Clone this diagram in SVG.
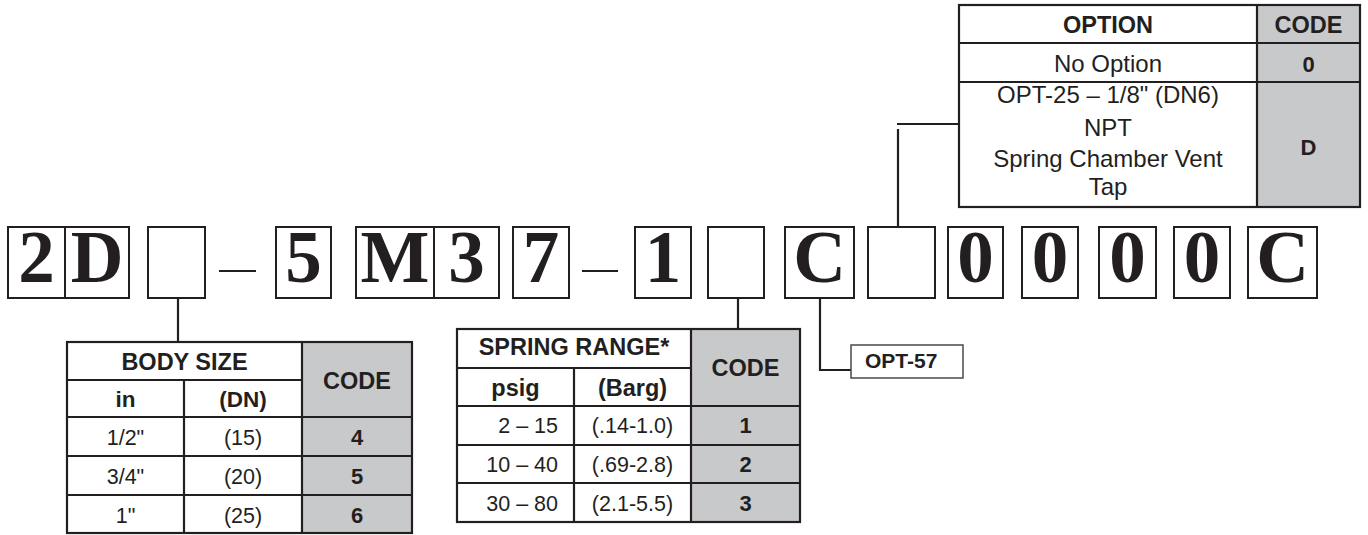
<svg xmlns="http://www.w3.org/2000/svg" width="1368" height="535" viewBox="0 0 1368 535">
<style>
.box{fill:#fff;stroke:#231f20;stroke-width:2}
.big{font-family:"Liberation Serif","Times New Roman",serif;font-weight:bold;font-size:73px;fill:#231f20;text-anchor:middle}
.ln{stroke:#231f20;stroke-width:2.2;fill:none}
.tl{stroke:#231f20;stroke-width:2.2;fill:none}
.gray{fill:#c8c9cb}
.h{font-family:"Liberation Sans",Arial,sans-serif;font-weight:bold;font-size:23.5px;fill:#231f20;text-anchor:middle}
.sh{font-family:"Liberation Sans",Arial,sans-serif;font-weight:bold;font-size:22.5px;fill:#231f20;text-anchor:middle}
.r{font-family:"Liberation Sans",Arial,sans-serif;font-size:21.5px;fill:#231f20;text-anchor:middle}
.ro{font-family:"Liberation Sans",Arial,sans-serif;font-size:24px;fill:#231f20;text-anchor:middle}
.b{font-family:"Liberation Sans",Arial,sans-serif;font-weight:bold;font-size:22px;fill:#231f20;text-anchor:middle}
</style>
<rect width="1368" height="535" fill="#fff"/>

<g id="model-code">
<rect class="box" x="8" y="227" width="57" height="71"/><text class="big" x="36.5" y="282">2</text>
<rect class="box" x="65" y="227" width="64" height="71"/><text class="big" x="97" y="282">D</text>
<rect class="box" x="148" y="227" width="57" height="71"/>
<line class="ln" x1="219" y1="271" x2="256" y2="271" stroke-width="2"/>
<rect class="box" x="276" y="227" width="55" height="71"/><text class="big" x="303.5" y="282">5</text>
<rect class="box" x="356" y="227" width="78" height="71"/><text class="big" x="395" y="282">M</text>
<rect class="box" x="434" y="227" width="65" height="71"/><text class="big" x="466.5" y="282">3</text>
<rect class="box" x="513" y="227" width="56" height="71"/><text class="big" x="541" y="282">7</text>
<line class="ln" x1="582" y1="271" x2="618" y2="271" stroke-width="2"/>
<rect class="box" x="635" y="227" width="56" height="71"/><text class="big" x="663" y="282">1</text>
<rect class="box" x="708" y="227" width="56" height="71"/>
<rect class="box" x="785" y="227" width="69" height="71"/><text class="big" x="819.5" y="282">C</text>
<rect class="box" x="868" y="227" width="67" height="71"/>
<rect class="box" x="948" y="227" width="55" height="71"/><text class="big" x="975.5" y="282">0</text>
<rect class="box" x="1022" y="227" width="56" height="71"/><text class="big" x="1050" y="282">0</text>
<rect class="box" x="1099" y="227" width="57" height="71"/><text class="big" x="1127.5" y="282">0</text>
<rect class="box" x="1174" y="227" width="56" height="71"/><text class="big" x="1202" y="282">0</text>
<rect class="box" x="1248" y="227" width="69" height="71"/><text class="big" x="1282.5" y="282">C</text>
</g>

<g id="connectors">
<line class="ln" x1="178" y1="298" x2="178" y2="342"/>
<line class="ln" x1="738" y1="298" x2="738" y2="329"/>
<polyline class="ln" points="820,298 820,370 851,370"/>
<line class="ln" x1="897" y1="124" x2="959" y2="124"/>
<line class="ln" x1="898" y1="129" x2="898" y2="227"/>
</g>

<g id="body-size-table">
<rect class="gray" x="302" y="342" width="110" height="191"/>
<rect class="tl" x="67" y="342" width="345" height="191"/>
<line class="tl" x1="67" y1="380" x2="302" y2="380"/>
<line class="tl" x1="67" y1="417" x2="412" y2="417"/>
<line class="tl" x1="67" y1="456" x2="412" y2="456"/>
<line class="tl" x1="67" y1="495" x2="412" y2="495"/>
<line class="tl" x1="184" y1="380" x2="184" y2="533"/>
<line class="tl" x1="302" y1="342" x2="302" y2="533"/>
<text class="h" x="184.5" y="370">BODY SIZE</text>
<text class="h" x="357" y="389">CODE</text>
<text class="sh" x="125.5" y="407">in</text>
<text class="sh" x="243" y="407">(DN)</text>
<text class="r" x="125.5" y="445">1/2"</text><text class="r" x="243" y="445">(15)</text><text class="b" x="357" y="445">4</text>
<text class="r" x="125.5" y="484">3/4"</text><text class="r" x="243" y="484">(20)</text><text class="b" x="357" y="484">5</text>
<text class="r" x="125.5" y="523">1"</text><text class="r" x="243" y="523">(25)</text><text class="b" x="357" y="523">6</text>
</g>

<g id="spring-range-table">
<rect class="gray" x="691" y="329" width="109" height="193"/>
<rect class="tl" x="457" y="329" width="343" height="193"/>
<line class="tl" x1="457" y1="368" x2="691" y2="368"/>
<line class="tl" x1="457" y1="406" x2="800" y2="406"/>
<line class="tl" x1="457" y1="445" x2="800" y2="445"/>
<line class="tl" x1="457" y1="483" x2="800" y2="483"/>
<line class="tl" x1="574" y1="368" x2="574" y2="522"/>
<line class="tl" x1="691" y1="329" x2="691" y2="522"/>
<text class="h" x="574" y="355">SPRING RANGE*</text>
<text class="h" x="745.5" y="376">CODE</text>
<text class="h" x="515.5" y="396">psig</text>
<text class="h" x="632.5" y="396">(Barg)</text>
<text class="r" x="558" y="433" text-anchor="end" style="text-anchor:end">2 – 15</text><text class="r" x="632.5" y="433">(.14-1.0)</text><text class="b" x="745.5" y="433">1</text>
<text class="r" x="558" y="472" style="text-anchor:end">10 – 40</text><text class="r" x="632.5" y="472">(.69-2.8)</text><text class="b" x="745.5" y="472">2</text>
<text class="r" x="558" y="511" style="text-anchor:end">30 – 80</text><text class="r" x="632.5" y="511">(2.1-5.5)</text><text class="b" x="745.5" y="511">3</text>
</g>

<g id="opt57">
<rect x="851" y="345" width="112" height="33" fill="#fff" stroke="#4a4a4a" stroke-width="1.5"/>
<text class="h" x="865" y="368" style="text-anchor:start;font-size:21px">OPT-57</text>
</g>

<g id="option-table">
<rect class="gray" x="1257" y="5" width="103" height="202"/>
<rect class="tl" x="959" y="5" width="401" height="202"/>
<line class="tl" x1="959" y1="43" x2="1360" y2="43"/>
<line class="tl" x1="959" y1="82" x2="1360" y2="82"/>
<line class="tl" x1="1257" y1="5" x2="1257" y2="207"/>
<text class="h" x="1108" y="33">OPTION</text>
<text class="h" x="1308.5" y="33">CODE</text>
<text class="ro" x="1108" y="72">No Option</text>
<text class="b" x="1308.5" y="72">0</text>
<text class="ro" x="1108" y="103">OPT-25 – 1/8" (DN6)</text>
<text class="ro" x="1108" y="136">NPT</text>
<text class="ro" x="1108" y="167">Spring Chamber Vent</text>
<text class="ro" x="1108" y="195">Tap</text>
<text class="b" x="1308.5" y="155">D</text>
</g>
</svg>
